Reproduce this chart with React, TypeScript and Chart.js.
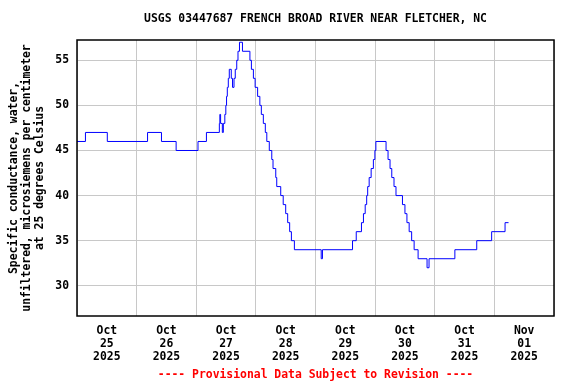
import React, { useEffect, useRef } from "react";
import { Chart, registerables } from "chart.js";

Chart.register(...registerables);

// Hours since 2025-10-25 00:00 at which the value changes
const changeHours = [
  0, 3.4, 12.2, 28.4, 34.0, 39.9, 48.7, 52.1, 57.3, 57.5, 57.8, 58.5, 58.9,
  59.5, 59.9, 60.2, 60.5, 60.9, 61.3, 62.1, 62.6, 63.2, 63.7, 64.3, 64.8,
  65.4, 66.6, 69.6, 70.2, 71.0, 71.7, 72.7, 73.6, 74.2, 75.0, 75.8, 76.4,
  77.4, 78.4, 78.9, 80.0, 80.4, 82.0, 83.0, 84.0, 84.8, 85.6, 86.3, 87.5,
  98.3, 98.8, 110.9, 112.4, 114.5, 115.3, 116.0, 116.6, 117.0, 117.6, 118.4,
  119.3, 119.9, 120.3, 124.4, 125.2, 126.0, 126.7, 127.6, 128.4, 131.0,
  132.0, 132.8, 133.7, 134.7, 135.7, 137.3, 140.9, 141.7, 152.1, 160.9,
  166.9, 172.3, 173.7,
];
const conductance = [
  46, 47, 46, 47, 46, 45, 46, 47, 48, 49, 48, 47, 48,
  49, 50, 51, 52, 53, 54, 53, 52, 53, 54, 55, 56,
  57, 56, 55, 54, 53, 52, 51, 50, 49, 48, 47, 46,
  45, 44, 43, 42, 41, 40, 39, 38, 37, 36, 35, 34,
  33, 34, 35, 36, 37, 38, 39, 40, 41, 42, 43,
  44, 45, 46, 45, 44, 43, 42, 41, 40, 39,
  38, 37, 36, 35, 34, 33, 32, 33, 34, 35,
  36, 37, 37,
];

const dayMonths = ["Oct", "Oct", "Oct", "Oct", "Oct", "Oct", "Oct", "Nov"];
const dayNumbers = ["25", "26", "27", "28", "29", "30", "31", "01"];
const dayYears = ["2025", "2025", "2025", "2025", "2025", "2025", "2025", "2025"];
const yTicks = [30, 35, 40, 45, 50, 55];

const titleText = "USGS 03447687 FRENCH BROAD RIVER NEAR FLETCHER, NC";
const footerText = "---- Provisional Data Subject to Revision ----";
const yTitle = [
  "Specific conductance, water,",
  "unfiltered, microsiemens per centimeter",
  "at 25 degrees Celsius",
];

const FONT = "'DejaVu Sans Mono', 'Liberation Mono', monospace";

export default function App() {
  const ref = useRef<HTMLCanvasElement | null>(null);
  useEffect(() => {
    document.body.style.margin = "0";
    const canvas = ref.current;
    if (!canvas) return;
    const frame = {
      id: "frame",
      afterDraw(chart: any) {
        const { ctx, chartArea } = chart;
        const { left, top, right, bottom } = chartArea;
        ctx.save();
        ctx.strokeStyle = "#000";
        ctx.lineWidth = 1.5;
        ctx.strokeRect(left, top, right - left, bottom - top);
        const cx = (left + right) / 2;
        ctx.textAlign = "center";
        ctx.textBaseline = "middle";
        ctx.font = `bold 11.4px ${FONT}`;
        ctx.fillStyle = "#000";
        ctx.fillText(titleText, cx, 19);
        ctx.fillStyle = "#ff0000";
        ctx.fillText(footerText, cx, 375);
        ctx.restore();
      },
    };
    const chart = new Chart(canvas, {
      type: "line",
      data: {
        datasets: [
          {
            data: changeHours.map((h, i) => ({ x: h, y: conductance[i] })),
            borderColor: "#0000ff",
            borderWidth: 1,
            pointRadius: 0,
            stepped: true,
            fill: false,
          },
        ],
      },
      options: {
        animation: false,
        responsive: false,
        layout: { padding: { top: 40, right: 22, left: 0, bottom: 0 } },
        plugins: {
          legend: { display: false },
          tooltip: { enabled: false },
          title: { display: false },
        },
        scales: {
          x: {
            type: "linear",
            min: 0,
            max: 192,
            afterBuildTicks: (scale: any) => {
              const t = [];
              for (let v = 0; v <= 192; v += 12) t.push({ value: v });
              scale.ticks = t;
            },
            afterFit: (scale: any) => {
              scale.height = 68;
            },
            grid: {
              drawTicks: false,
              color: (ctx: any) =>
                ctx.tick && ctx.tick.value % 24 === 0 ? "#c8c8c8" : "rgba(0,0,0,0)",
              lineWidth: 1,
            },
            border: { display: false },
            ticks: {
              autoSkip: false,
              maxRotation: 0,
              padding: 8,
              color: "#000",
              font: { family: FONT, size: 11.4, weight: "bold", lineHeight: 1.15 },
              callback: (value: any) => {
                const v = Number(value);
                if (v % 24 !== 12) return "";
                const d = Math.floor(v / 24);
                return [dayMonths[d], dayNumbers[d], dayYears[d]];
              },
            },
          },
          y: {
            min: 26.65,
            max: 57.25,
            afterBuildTicks: (scale: any) => {
              scale.ticks = yTicks.map((v) => ({ value: v }));
            },
            afterFit: (scale: any) => {
              scale.width = 77;
            },
            grid: { drawTicks: false, color: "#c8c8c8", lineWidth: 1 },
            border: { display: false },
            ticks: {
              padding: 8,
              color: "#000",
              font: { family: FONT, size: 11.4, weight: "bold" },
            },
            title: {
              display: true,
              text: yTitle,
              color: "#000",
              padding: { top: 7, bottom: 0 },
              font: { family: FONT, size: 11.4, weight: "bold", lineHeight: 1.15 },
            },
          },
        },
      },
      plugins: [frame],
    });
    return () => chart.destroy();
  }, []);
  return <canvas ref={ref} width={576} height={384} />;
}
